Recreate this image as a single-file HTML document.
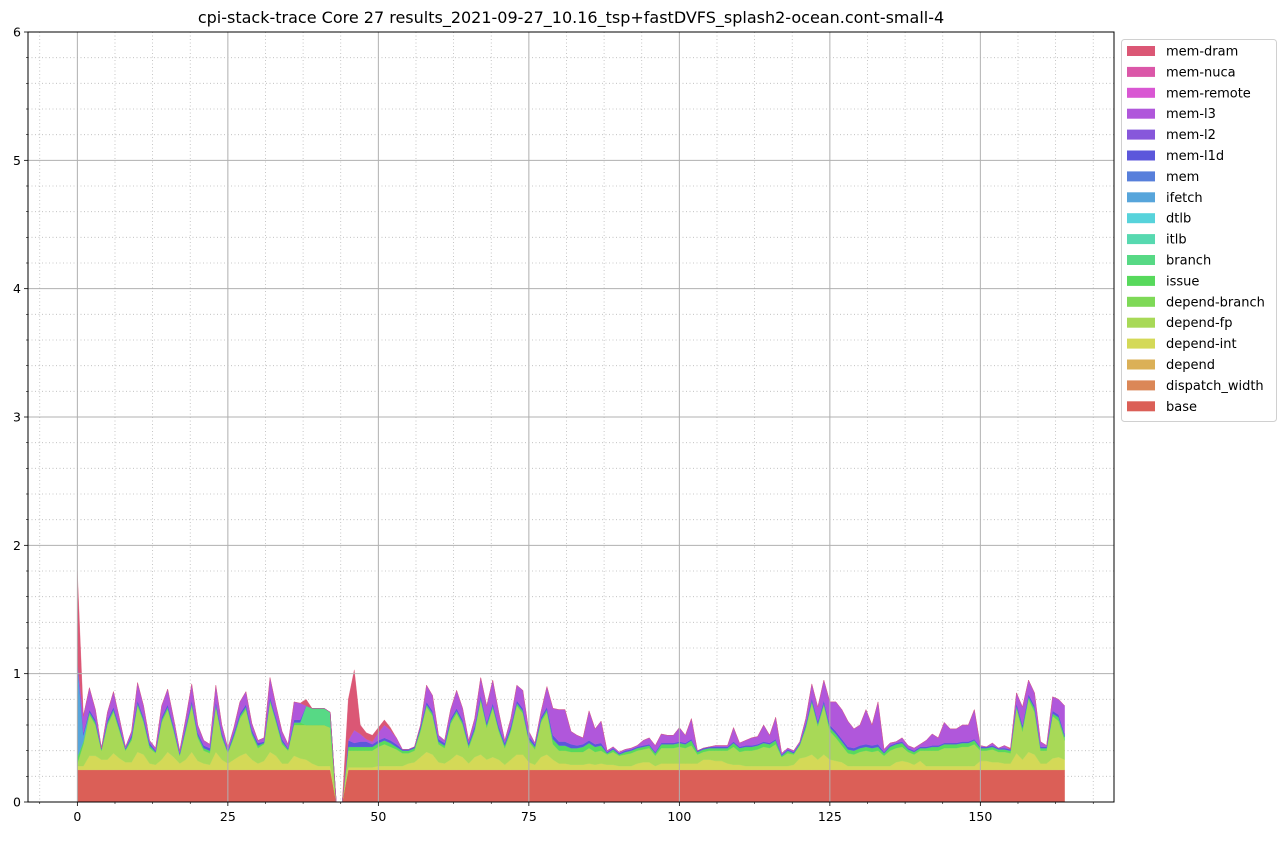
<!DOCTYPE html>
<html><head><meta charset="utf-8">
<style>
html,body{margin:0;padding:0;background:#fff;}
body{width:1286px;height:836px;overflow:hidden;font-family:"Liberation Sans","DejaVu Sans",sans-serif;}
svg text{font-family:"DejaVu Sans","Liberation Sans",sans-serif;}
</style></head>
<body>
<svg id="chart" width="1286" height="836" viewBox="0 0 1286 836" xmlns="http://www.w3.org/2000/svg">
<text x="571" y="23" text-anchor="middle" font-size="16" fill="#000">cpi-stack-trace Core 27 results_2021-09-27_10.16_tsp+fastDVFS_splash2-ocean.cont-small-4</text>
<g id="minor-grid"></g>
<g id="areas"></g>
<g id="major-grid"></g>
<g id="axes"></g>
<g id="legend"></g>
</svg>
<script>
const xTicks = [0,25,50,75,100,125,150];
const yTicks = [0,1,2,3,4,5,6];
const seriesNames = ["base","dispatch_width","depend","depend-int","depend-fp","depend-branch","issue","branch","itlb","dtlb","ifetch","mem","mem-l1d","mem-l2","mem-l3","mem-remote","mem-nuca","mem-dram"];
const seriesColors = ["#db5f57","#db8757","#dbb057","#d4d957","#a8d957","#7ed957","#57d95c","#57d985","#57d9b0","#57d3db","#57a5db","#577fdb","#5c57db","#8757db","#b057db","#d957d3","#db57a8","#db5775"];
const base = [0.25,0.25,0.25,0.25,0.25,0.25,0.25,0.25,0.25,0.25,0.25,0.25,0.25,0.25,0.25,0.25,0.25,0.25,0.25,0.25,0.25,0.25,0.25,0.25,0.25,0.25,0.25,0.25,0.25,0.25,0.25,0.25,0.25,0.25,0.25,0.25,0.25,0.25,0.25,0.25,0.25,0.25,0.25,0,0,0.25,0.25,0.25,0.25,0.25,0.25,0.25,0.25,0.25,0.25,0.25,0.25,0.25,0.25,0.25,0.25,0.25,0.25,0.25,0.25,0.25,0.25,0.25,0.25,0.25,0.25,0.25,0.25,0.25,0.25,0.25,0.25,0.25,0.25,0.25,0.25,0.25,0.25,0.25,0.25,0.25,0.25,0.25,0.25,0.25,0.25,0.25,0.25,0.25,0.25,0.25,0.25,0.25,0.25,0.25,0.25,0.25,0.25,0.25,0.25,0.25,0.25,0.25,0.25,0.25,0.25,0.25,0.25,0.25,0.25,0.25,0.25,0.25,0.25,0.25,0.25,0.25,0.25,0.25,0.25,0.25,0.25,0.25,0.25,0.25,0.25,0.25,0.25,0.25,0.25,0.25,0.25,0.25,0.25,0.25,0.25,0.25,0.25,0.25,0.25,0.25,0.25,0.25,0.25,0.25,0.25,0.25,0.25,0.25,0.25,0.25,0.25,0.25,0.25,0.25,0.25,0.25,0.25,0.25,0.25];
const dependInt = [0.03,0.03,0.11,0.11,0.08,0.08,0.13,0.09,0.06,0.06,0.14,0.12,0.05,0.04,0.08,0.14,0.10,0.05,0.08,0.14,0.07,0.05,0.04,0.14,0.08,0.05,0.08,0.11,0.13,0.08,0.05,0.07,0.14,0.11,0.05,0.05,0.11,0.09,0.08,0.05,0.03,0.03,0.03,0,0,0.02,0.02,0.02,0.02,0.02,0.03,0.03,0.03,0.03,0.03,0.05,0.06,0.10,0.14,0.12,0.06,0.05,0.08,0.12,0.10,0.05,0.10,0.12,0.08,0.10,0.08,0.04,0.08,0.12,0.12,0.06,0.04,0.10,0.12,0.08,0.05,0.05,0.04,0.04,0.04,0.05,0.04,0.05,0.04,0.04,0.03,0.03,0.03,0.05,0.06,0.06,0.03,0.05,0.05,0.05,0.05,0.05,0.05,0.05,0.08,0.08,0.07,0.07,0.05,0.04,0.04,0.03,0.03,0.03,0.03,0.03,0.03,0.03,0.03,0.04,0.09,0.10,0.12,0.08,0.12,0.08,0.07,0.06,0.03,0.03,0.03,0.03,0.03,0.03,0.03,0.03,0.06,0.07,0.06,0.04,0.07,0.03,0.03,0.03,0.03,0.03,0.03,0.03,0.03,0.03,0.07,0.07,0.06,0.06,0.05,0.05,0.13,0.08,0.14,0.12,0.05,0.05,0.09,0.10,0.08];
const dependFp = [0.02,0.17,0.32,0.24,0.07,0.27,0.32,0.21,0.09,0.17,0.36,0.25,0.12,0.09,0.29,0.33,0.20,0.06,0.22,0.36,0.18,0.10,0.09,0.35,0.17,0.08,0.17,0.29,0.34,0.19,0.12,0.13,0.39,0.26,0.15,0.10,0.24,0.26,0.27,0.30,0.32,0.32,0.30,0,0,0.13,0.13,0.13,0.13,0.13,0.15,0.17,0.15,0.13,0.10,0.08,0.09,0.20,0.35,0.30,0.14,0.12,0.28,0.32,0.25,0.12,0.20,0.42,0.25,0.38,0.22,0.13,0.22,0.38,0.32,0.16,0.12,0.27,0.33,0.12,0.10,0.10,0.10,0.10,0.10,0.12,0.10,0.10,0.08,0.10,0.08,0.09,0.10,0.10,0.10,0.11,0.08,0.12,0.12,0.12,0.13,0.12,0.14,0.07,0.06,0.07,0.08,0.08,0.10,0.14,0.10,0.12,0.12,0.13,0.15,0.14,0.17,0.07,0.10,0.08,0.10,0.22,0.40,0.26,0.38,0.22,0.18,0.13,0.10,0.09,0.11,0.12,0.11,0.12,0.08,0.12,0.11,0.11,0.08,0.08,0.08,0.12,0.12,0.12,0.14,0.14,0.14,0.15,0.15,0.17,0.08,0.08,0.10,0.08,0.09,0.08,0.35,0.22,0.41,0.33,0.10,0.10,0.33,0.28,0.15];
const issue = [0.05,0.02,0.02,0.02,0.01,0.02,0.02,0.02,0.01,0.02,0.02,0.02,0.02,0.01,0.02,0.02,0.02,0.01,0.02,0.02,0.02,0.02,0.02,0.02,0.02,0.01,0.02,0.02,0.02,0.02,0.02,0.01,0.02,0.02,0.02,0.01,0.02,0.02,0,0,0,0,0,0,0,0.03,0.03,0.03,0.03,0.03,0.03,0.03,0.03,0.02,0.02,0.02,0.02,0.02,0.02,0.02,0.02,0.02,0.02,0.02,0.02,0.02,0.02,0.02,0.02,0.02,0.02,0.02,0.02,0.02,0.02,0.02,0.02,0.02,0.02,0.04,0.04,0.04,0.03,0.03,0.04,0.04,0.04,0.04,0.01,0.02,0.01,0.02,0.02,0.02,0.02,0.02,0.02,0.03,0.03,0.03,0.03,0.03,0.04,0.02,0.02,0.02,0.02,0.02,0.02,0.03,0.03,0.03,0.03,0.03,0.03,0.03,0.03,0.01,0.02,0.01,0.01,0.02,0.02,0.02,0.02,0.03,0.03,0.03,0.03,0.03,0.03,0.03,0.03,0.03,0.02,0.03,0.03,0.03,0.02,0.02,0.02,0.02,0.03,0.03,0.03,0.03,0.03,0.03,0.03,0.03,0.02,0.02,0.02,0.02,0.02,0.02,0.02,0.03,0.02,0.03,0.02,0.02,0.02,0.03,0.03];
const branch = [0,0,0,0,0,0,0,0,0,0,0,0,0,0,0,0,0,0,0,0,0,0,0,0,0,0,0,0,0,0,0,0,0,0,0,0,0,0,0.15,0.13,0.13,0.13,0.12,0,0,0,0,0,0,0,0,0,0,0,0,0,0,0,0,0,0,0,0,0,0,0,0,0,0,0,0,0,0,0,0,0,0,0,0,0,0,0,0,0,0,0,0,0,0,0,0,0,0,0,0,0,0,0,0,0,0,0,0,0,0,0,0,0,0,0,0,0,0,0,0,0,0,0,0,0,0,0,0,0,0,0,0,0,0,0,0,0,0,0,0,0,0,0,0,0,0,0,0,0,0,0,0,0,0,0,0,0,0,0,0,0,0,0,0,0,0,0,0,0,0];
const ifetch = [0.75,0.05,0,0,0,0,0,0,0,0,0,0,0,0,0,0,0,0,0,0,0,0,0,0,0,0,0,0,0,0,0,0,0,0,0,0,0,0,0,0,0,0,0,0,0,0,0,0,0,0,0,0,0,0,0,0,0,0,0,0,0,0,0,0,0,0,0,0,0,0,0,0,0,0,0,0,0,0,0,0,0,0,0,0,0,0,0,0,0,0,0,0,0,0,0,0,0,0,0,0,0,0,0,0,0,0,0,0,0,0,0,0,0,0,0,0,0,0,0,0,0,0,0,0,0,0,0,0,0,0,0,0,0,0,0,0,0,0,0,0,0,0,0,0,0,0,0,0,0,0,0,0,0,0,0,0,0,0,0,0,0,0,0,0,0];
const memL1d = [0,0.02,0.02,0.02,0.01,0.02,0.02,0.02,0.01,0.02,0.02,0.02,0.02,0.01,0.02,0.02,0.02,0.01,0.02,0.02,0.02,0.02,0.02,0.02,0.02,0.01,0.02,0.02,0.02,0.02,0.02,0.01,0.02,0.02,0.02,0.01,0.02,0.02,0,0,0,0,0,0,0,0.05,0.03,0.04,0.04,0.02,0.02,0.02,0.02,0.02,0.01,0.01,0.01,0.02,0.02,0.02,0.02,0.02,0.02,0.02,0.02,0.02,0.02,0.02,0.02,0.02,0.02,0.02,0.02,0.02,0.02,0.02,0.02,0.02,0.02,0.03,0.03,0.03,0.03,0.02,0.02,0.02,0.02,0.02,0.01,0.01,0.01,0.01,0.01,0.01,0.01,0.01,0.01,0.01,0.01,0.01,0.01,0.01,0.01,0.01,0.01,0.01,0.01,0.01,0.01,0.01,0.01,0.01,0.01,0.01,0.01,0.01,0.01,0.01,0.01,0.01,0.01,0.02,0.02,0.02,0.02,0.02,0.02,0.02,0.02,0.02,0.02,0.02,0.02,0.02,0.01,0.01,0.01,0.01,0.01,0.01,0.01,0.01,0.01,0.01,0.01,0.01,0.01,0.01,0.01,0.01,0.01,0.01,0.01,0.01,0.01,0.01,0.02,0.02,0.02,0.02,0.01,0.01,0.02,0.02,0.02];
const memL3 = [0,0.13,0.17,0.08,0,0.06,0.12,0.06,0.01,0.03,0.14,0.09,0.02,0.02,0.09,0.12,0.06,0.02,0.06,0.13,0.06,0.04,0.03,0.13,0.06,0.02,0.04,0.09,0.10,0.05,0.02,0.03,0.15,0.09,0.06,0.03,0.14,0.13,0,0,0,0,0,0,0,0,0.10,0.06,0.02,0.02,0.06,0.10,0.08,0.05,0,0,0,0.01,0.13,0.12,0.03,0.02,0.07,0.14,0.09,0.02,0.06,0.14,0.13,0.18,0.11,0.02,0.06,0.12,0.14,0.04,0.01,0.04,0.16,0.21,0.25,0.25,0.10,0.08,0.05,0.23,0.12,0.17,0.01,0.01,0.01,0.01,0.01,0.01,0.04,0.05,0.05,0.07,0.06,0.06,0.11,0.06,0.16,0,0,0,0.01,0.01,0.01,0.11,0.03,0.04,0.06,0.06,0.13,0.06,0.17,0.01,0.01,0.01,0.01,0.04,0.11,0.11,0.16,0.18,0.23,0.23,0.20,0.15,0.16,0.27,0.16,0.33,0.02,0.02,0.01,0.03,0.02,0.02,0.02,0.05,0.09,0.06,0.16,0.11,0.11,0.13,0.13,0.23,0.01,0,0.02,0,0.02,0,0.08,0.14,0.11,0.10,0.04,0.01,0.11,0.12,0.22];
const memDram = [0.70,0,0,0,0,0,0,0,0,0,0,0,0,0,0,0,0,0,0,0,0,0,0,0,0,0,0,0,0,0,0,0,0,0,0,0,0,0,0.05,0,0,0,0,0,0,0.32,0.47,0.07,0.05,0.05,0.04,0.04,0.02,0,0,0,0,0,0,0,0,0,0,0,0,0,0,0,0,0,0,0,0,0,0,0,0,0,0,0,0,0,0,0,0,0,0,0,0,0,0,0,0,0,0,0,0,0,0,0,0,0,0,0,0,0,0,0,0,0,0,0,0,0,0,0,0,0,0,0,0,0,0,0,0,0,0,0,0,0,0,0,0,0,0,0,0,0,0,0,0,0,0,0,0,0,0,0,0,0,0,0,0,0,0,0.01,0,0,0,0,0,0,0,0,0,0,0];

const NS="http://www.w3.org/2000/svg";
const L=28,R=1114,T=32,B=802;
const xmin=-8.2,xmax=172.2,ymin=0,ymax=6;
function sx(v){return L+(v-xmin)/(xmax-xmin)*(R-L);}
function sy(v){return B-(v-ymin)/(ymax-ymin)*(B-T);}
function mk(tag,attrs,parent){const e=document.createElementNS(NS,tag);for(const k in attrs)e.setAttribute(k,attrs[k]);parent.appendChild(e);return e;}

const minorG=document.getElementById('minor-grid');
const majorG=document.getElementById('major-grid');
const axesG=document.getElementById('axes');
const areasG=document.getElementById('areas');
const legG=document.getElementById('legend');

for(let v=-6.25;v<=172;v+=6.25){ if(Math.abs(v/25-Math.round(v/25))<1e-6)continue;
  const ln=mk('line',{x1:sx(v),x2:sx(v),y1:T,y2:B,stroke:'#b8b8b8','stroke-width':0.8,'stroke-dasharray':'1,2.5'},minorG);
  
  
  const tk=mk('line',{x1:sx(v),x2:sx(v),y1:B,y2:B+2,stroke:'#000','stroke-width':0.6},axesG);
  
  
}
for(let v=0.2;v<6;v+=0.2){ if(Math.abs(v-Math.round(v))<1e-6)continue;
  const ln=mk('line',{x1:L,x2:R,y1:sy(v),y2:sy(v),stroke:'#b8b8b8','stroke-width':0.8,'stroke-dasharray':'1,2.5'},minorG);
  
  
  const tk=mk('line',{x1:L-2,x2:L,y1:sy(v),y2:sy(v),stroke:'#000','stroke-width':0.6},axesG);
  
  
}

const seriesData = {"base":base,"depend-int":dependInt,"depend-fp":dependFp,"issue":issue,"branch":branch,"ifetch":ifetch,"mem-l1d":memL1d,"mem-l3":memL3,"mem-dram":memDram};
const n=base.length;
let cum=new Array(n).fill(0);
seriesNames.forEach((name,i)=>{
  const d=seriesData[name]; if(!d)return;
  const lower=cum.slice(); const upper=cum.map((c,j)=>c+(d[j]||0));
  let pts=[];
  for(let j=0;j<n;j++)pts.push(sx(j).toFixed(2)+','+sy(upper[j]).toFixed(2));
  for(let j=n-1;j>=0;j--)pts.push(sx(j).toFixed(2)+','+sy(lower[j]).toFixed(2));
  const p=mk('polygon',{points:pts.join(' '),fill:seriesColors[i],stroke:seriesColors[i],'stroke-width':0.3},areasG);
  
  
  cum=upper;
});

xTicks.forEach(v=>{
  const ln=mk('line',{x1:sx(v),x2:sx(v),y1:T,y2:B,stroke:'#b0b0b0','stroke-width':1},majorG);
  
  
  const tk=mk('line',{x1:sx(v),x2:sx(v),y1:B,y2:B+4,stroke:'#000','stroke-width':0.8},axesG);
  
  
  const t=mk('text',{x:sx(v),y:B+19,'text-anchor':'middle','font-size':12.5,fill:'#000'},axesG);
  t.textContent=v;
  
  
});
yTicks.forEach(v=>{
  if(v>0&&v<6){const ln=mk('line',{x1:L,x2:R,y1:sy(v),y2:sy(v),stroke:'#b0b0b0','stroke-width':1},majorG);
  
  }
  const tk=mk('line',{x1:L-4,x2:L,y1:sy(v),y2:sy(v),stroke:'#000','stroke-width':0.8},axesG);
  
  
  const t=mk('text',{x:L-7,y:sy(v)+4.5,'text-anchor':'end','font-size':12.5,fill:'#000'},axesG);
  t.textContent=v;
  
  
});
const frame=mk('rect',{x:L,y:T,width:R-L,height:B-T,fill:'none',stroke:'#000','stroke-width':1},axesG);



const lb=mk('rect',{x:1121.5,y:39.5,width:155,height:382,fill:'#fff',stroke:'#d0d0d0','stroke-width':1,rx:3},legG);


for(let k=0;k<seriesNames.length;k++){
  const i=seriesNames.length-1-k;
  const y=51+k*20.9;
  const g=mk('g',{},legG);
  
  
  mk('rect',{x:1127,y:y-5,width:28,height:10,fill:seriesColors[i]},g);
  const t=mk('text',{x:1166,y:y+4.5,'font-size':13,fill:'#000'},g);
  t.textContent=seriesNames[i];
}
</script>
</body></html>
